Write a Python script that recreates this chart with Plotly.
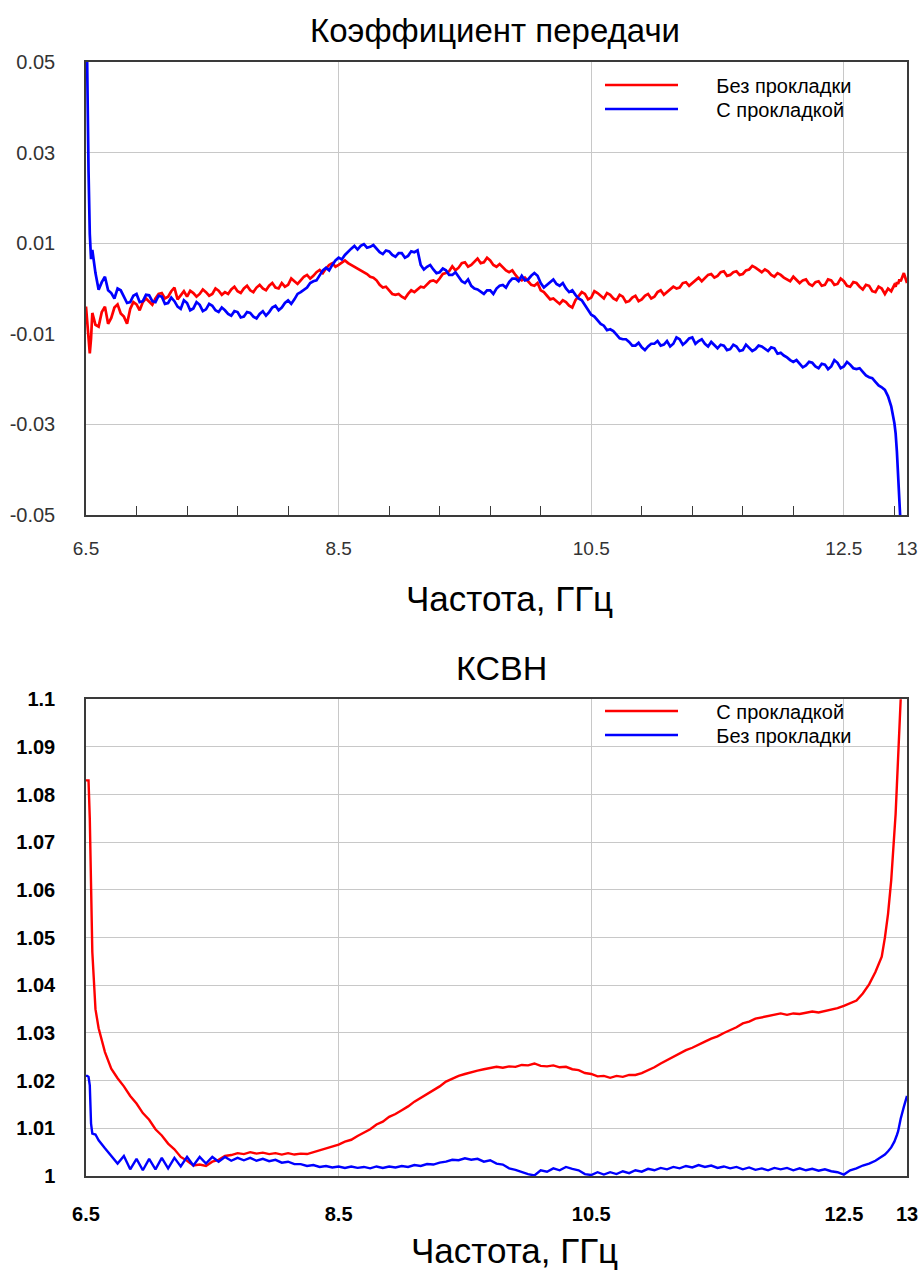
import plotly.graph_objects as go

# ---------------- data ----------------
freq_head = [6.50, 6.51, 6.52, 6.53, 6.54, 6.55, 6.575]
freq_mid = [round(6.60 + 0.05 * i, 3) for i in range(125)]  # 6.60 ... 12.80
freq_tail = [12.825, 12.85, 12.875, 12.90, 12.91, 12.92, 12.93, 12.94, 12.95, 12.975, 13.00]
freq = freq_head + freq_mid + freq_tail
# extra half-step samples (6.625 ... 12.775) used by the noisier transmission curves
freq_half = [round(6.625 + 0.05 * i, 3) for i in range(124)]

# Коэффициент передачи, Без прокладки (red)
tr_no_pad = [
    -0.004, -0.007, -0.010, -0.0143, -0.011, -0.0054, -0.008,
    -0.0084, -0.004, -0.0065, -0.0035, -0.0062, -0.0045, -0.0035, -0.003, -0.0028, -0.0022,
    -0.001, -0.0018, 0.0002, -0.0015, -0.0018, -0.001, -0.0012, -0.0008, -0.0012, -0.0005,
    -0.0008, -0.0002, -0.0006, 0.0, -0.0004, 0.0002, 0.0, 0.0006, 0.0002, 0.0012,
    0.0008, 0.0016, 0.0018, 0.003, 0.0028, 0.0041, 0.0044, 0.0056, 0.0052, 0.0062,
    0.0052, 0.0045, 0.0036, 0.0026, 0.0018, 0.0002, -0.0004, -0.0014, -0.0018, -0.0012,
    -0.0008, 0.0004, 0.0008, 0.0018, 0.0022, 0.0034, 0.0049, 0.0046, 0.0058, 0.0052,
    0.0066, 0.0058, 0.0062, 0.0048, 0.0046, 0.0036, 0.003, 0.0018, 0.0016, 0.0006,
    -0.0004, -0.0016, -0.0022, -0.0034, -0.003, -0.0042, -0.0018, -0.0012, -0.002, -0.001,
    -0.0022, -0.0014, -0.0026, -0.0018, -0.0028, -0.0016, -0.0024, -0.0012, -0.0018, -0.0004,
    -0.0008, 0.0004, 0.0002, 0.0014, 0.0012, 0.0024, 0.0022, 0.0032, 0.0028, 0.0038,
    0.003, 0.0038, 0.0032, 0.0042, 0.0046, 0.0036, 0.0038, 0.0026, 0.003, 0.002,
    0.0026, 0.0012, 0.002, 0.0006, 0.0016, 0.0008, 0.0018, 0.001, 0.0016, 0.0004,
    0.0012, -0.0002, 0.0006, -0.0008, 0.0,
    -0.0012, 0.0, -0.0006, 0.0008, 0.0004, 0.0014, 0.001, 0.002, 0.0016, 0.0034, 0.0012,
]
tr_no_pad_half = [
    -0.0052, -0.0078, -0.0042, -0.0055, -0.0078, -0.003, -0.0048, -0.0022, -0.0036, -0.0012,
    -0.0022, -0.0006, -0.0024, -0.0006, -0.0005, -0.0018, -0.0002, -0.0016, 0.0, -0.0014,
    -0.0012, 0.0004, -0.001, 0.0006, -0.0008, 0.0008, -0.0004, 0.0012, 0.0, 0.0004,
    0.0022, 0.001, 0.0026, 0.0022, 0.0036, 0.0034, 0.0052, 0.0048, 0.0058, 0.0056,
    0.0049, 0.004, 0.0032, 0.0024, 0.0008, 0.0004, -0.0012, -0.0012, -0.0022, -0.0004,
    -0.0002, 0.0002, 0.0016, 0.0014, 0.0032, 0.0038, 0.004, 0.0056, 0.0048, 0.006,
    0.0056, 0.0068, 0.0052, 0.0054, 0.004, 0.004, 0.0022, 0.0024, 0.0008, 0.0012,
    -0.0008, -0.0024, -0.0028, -0.0026, -0.0038, -0.0026, -0.0008, -0.0024, -0.0006, -0.0016,
    -0.001, -0.0022, -0.0014, -0.003, -0.002, -0.0028, -0.0016, -0.0022, -0.0008, -0.0014,
    -0.0002, 0.0, 0.0012, 0.0006, 0.002, 0.0016, 0.003, 0.0024, 0.0036, 0.0028,
    0.0036, 0.003, 0.004, 0.005, 0.004, 0.0042, 0.003, 0.0034, 0.0024, 0.0016,
    0.0018, 0.0018, 0.001, 0.0014, 0.0006, 0.002, 0.0008, 0.0022, 0.0006, 0.0014,
    0.0004, 0.0008, -0.0006, 0.0004,
]

# Коэффициент передачи, С прокладкой (blue)
tr_pad = [
    0.07, 0.045, 0.026, 0.012, 0.0065, 0.0085, 0.0034,
    -0.0003, 0.0026, -0.001, 0.0, -0.0018, -0.003, -0.0012, -0.0028, -0.0015, -0.003,
    -0.0018, -0.0032, -0.0028, -0.0045, -0.0032, -0.0044, -0.0036, -0.0046, -0.0038, -0.0052,
    -0.0048, -0.006, -0.0052, -0.0062, -0.0054, -0.0066, -0.005, -0.0052, -0.0038, -0.0042,
    -0.0026, -0.0024, -0.0008, 0.0002, 0.0016, 0.0028, 0.0046, 0.0052, 0.0068, 0.0074,
    0.0088, 0.0086, 0.0098, 0.0092, 0.0088, 0.0076, 0.0082, 0.007, 0.0078, 0.0072,
    0.008, 0.0052, 0.0048, 0.0042, 0.0036, 0.004, 0.003, 0.0026, 0.0012, 0.0006,
    -0.0002, -0.0012, -0.0004, 0.0, 0.0008, 0.0014, 0.0022, 0.0028, 0.002, 0.0034,
    0.0012, 0.0008, 0.002, 0.0006, 0.0, -0.0004, -0.0022, -0.0036, -0.0058, -0.007,
    -0.0082, -0.009, -0.0102, -0.0112, -0.0118, -0.0126, -0.013, -0.0128, -0.0122, -0.0126,
    -0.0116, -0.0122, -0.0112, -0.0118, -0.0108, -0.0116, -0.0122, -0.0118, -0.0132, -0.0126,
    -0.0134, -0.0128, -0.0136, -0.013, -0.0134, -0.0128, -0.0138, -0.0132, -0.0142, -0.0152,
    -0.0162, -0.0166, -0.017, -0.0164, -0.0176, -0.0168, -0.0172, -0.0164, -0.0172, -0.0168,
    -0.0178, -0.0184, -0.0196, -0.0206, -0.0218,
    -0.0224, -0.0238, -0.026, -0.0297, -0.032, -0.036, -0.042, -0.048, -0.056, -0.07, -0.08,
]
tr_pad_half = [
    0.0014, -0.0004, -0.0022, -0.0004, -0.0032, -0.0016, -0.003, -0.0014, -0.0028, -0.0016,
    -0.0034, -0.002, -0.004, -0.0026, -0.0048, -0.003, -0.005, -0.0034, -0.0048, -0.0042,
    -0.0056, -0.005, -0.0064, -0.0052, -0.0062, -0.0056, -0.006, -0.0042, -0.0048, -0.0032,
    -0.0034, -0.0012, -0.0002, 0.0012, 0.0018, 0.004, 0.004, 0.0062, 0.0064, 0.0082,
    0.0094, 0.0094, 0.009, 0.0096, 0.008, 0.0084, 0.0074, 0.0078, 0.0068, 0.0082,
    0.0084, 0.0042, 0.0052, 0.0034, 0.0044, 0.003, 0.0036, 0.0016, 0.002, 0.0,
    -0.0008, -0.0004, -0.0012, 0.0006, 0.0002, 0.0022, 0.0016, 0.0018, 0.0028, 0.0028,
    0.0002, 0.0016, 0.001, 0.0012, -0.0008, -0.0014, -0.0026, -0.0048, -0.0062, -0.0078,
    -0.0092, -0.0094, -0.011, -0.0112, -0.0126, -0.012, -0.0136, -0.0122, -0.0116, -0.0124,
    -0.0128, -0.0108, -0.0124, -0.011, -0.0122, -0.0112, -0.0128, -0.0124, -0.0124, -0.0136,
    -0.0124, -0.0138, -0.0124, -0.0138, -0.0126, -0.0134, -0.013, -0.0144, -0.0148, -0.0158,
    -0.0158, -0.0174, -0.0162, -0.0172, -0.0166, -0.0178, -0.0158, -0.0176, -0.0162, -0.0176,
    -0.0176, -0.0192, -0.0198, -0.0214,
]

# КСВН, С прокладкой (red)
vswr_pad = [
    1.083, 1.083, 1.083, 1.075, 1.056, 1.047, 1.035,
    1.031, 1.026, 1.0225, 1.0205, 1.0188, 1.0168, 1.0152, 1.0132, 1.0118, 1.0098,
    1.0085, 1.0068, 1.0056, 1.004, 1.0032, 1.0022, 1.0024, 1.0021, 1.003, 1.0034,
    1.0042, 1.0044, 1.0048, 1.0046, 1.005, 1.0047, 1.0049, 1.0046, 1.0048, 1.0045,
    1.0048, 1.0045, 1.0047, 1.0046, 1.005, 1.0053, 1.0057, 1.0062, 1.0066, 1.0072,
    1.0076, 1.0084, 1.0091, 1.0098, 1.0108, 1.0114, 1.0124, 1.013, 1.0138, 1.0146,
    1.0156, 1.0164, 1.0172, 1.018, 1.0188, 1.0198, 1.0204, 1.021, 1.0214, 1.0218,
    1.0221, 1.0224, 1.0226, 1.0229, 1.0227, 1.023, 1.0229, 1.0233, 1.0232, 1.0236,
    1.0231, 1.023, 1.0232, 1.0228, 1.0229, 1.0224, 1.0222, 1.0216, 1.0214, 1.0209,
    1.021, 1.0206, 1.021, 1.0208, 1.0212, 1.0212, 1.0216, 1.0222, 1.0228, 1.0236,
    1.0243, 1.025, 1.0257, 1.0264, 1.0269, 1.0276, 1.0282, 1.0288, 1.0293, 1.03,
    1.0306, 1.0312, 1.032, 1.0324, 1.033, 1.0333, 1.0336, 1.0339, 1.0341, 1.0338,
    1.0341, 1.034, 1.0343, 1.0345, 1.0343, 1.0346, 1.0348, 1.0352, 1.0357, 1.0362,
    1.0368, 1.0383, 1.0402, 1.0428, 1.046,
    1.05, 1.055, 1.062, 1.071, 1.076, 1.082, 1.088, 1.094, 1.101, 1.115, 1.13,
]

# КСВН, Без прокладки (blue)
vswr_no_pad = [
    1.021, 1.021, 1.0208, 1.019, 1.011, 1.0089, 1.0087,
    1.0075, 1.0058, 1.0042, 1.0026, 1.0042, 1.0014, 1.0036, 1.0012, 1.0036, 1.0014,
    1.0038, 1.0016, 1.0038, 1.002, 1.004, 1.0022, 1.004, 1.0026, 1.004, 1.003,
    1.004, 1.0032, 1.0038, 1.0033, 1.0038, 1.0032, 1.0036, 1.0031, 1.0034, 1.0028,
    1.003, 1.0025, 1.0025, 1.0021, 1.0023, 1.0019, 1.0021, 1.0018, 1.002, 1.0017,
    1.002, 1.0017, 1.0019, 1.0016, 1.002, 1.0017, 1.002, 1.0018, 1.0021, 1.0019,
    1.0023, 1.0021, 1.0025, 1.0024, 1.0028, 1.003, 1.0034, 1.0033, 1.0037, 1.0034,
    1.0036, 1.003, 1.0033, 1.0026, 1.0024, 1.0016, 1.0013, 1.0008, 1.0004, 1.0001,
    1.0012, 1.0009, 1.0016, 1.0012, 1.0019, 1.0015, 1.0012, 1.0004, 1.0002, 1.0008,
    1.0003, 1.0008, 1.0004, 1.001, 1.0006, 1.0012, 1.0009, 1.0015, 1.0012, 1.0017,
    1.0014, 1.0019, 1.0016, 1.0021, 1.0018, 1.0023, 1.0019, 1.0022, 1.0017, 1.002,
    1.0016, 1.0019, 1.0014, 1.0018, 1.0013, 1.0016, 1.0012, 1.0017, 1.0014, 1.0017,
    1.0012, 1.0016, 1.0012, 1.0015, 1.0011, 1.0014, 1.001, 1.0008, 1.0003, 1.0012,
    1.0016, 1.0022, 1.0026, 1.0032, 1.004,
    1.0045, 1.0052, 1.006, 1.0072, 1.0078, 1.0086, 1.0094, 1.0108, 1.012, 1.0145, 1.0168,
]

for s in (tr_no_pad, tr_pad, vswr_pad, vswr_no_pad):
    assert len(s) == len(freq), (len(s), len(freq))
for s in (tr_no_pad_half, tr_pad_half):
    assert len(s) == len(freq_half), (len(s), len(freq_half))

x_tickvals = [6.5, 8.5, 10.5, 12.5, 13]
x_ticktext = ["6.5", "8.5", "10.5", "12.5", "13"]
x_minor = [6.9, 7.3, 7.7, 8.1, 8.9, 9.3, 9.7, 10.1, 10.9, 11.3, 11.7, 12.1, 12.9]
y1_tickvals = [0.05, 0.03, 0.01, -0.01, -0.03, -0.05]
y1_ticktext = ["0.05", "0.03", "0.01", "-0.01", "-0.03", "-0.05"]
y2_tickvals = [1.0, 1.01, 1.02, 1.03, 1.04, 1.05, 1.06, 1.07, 1.08, 1.09, 1.1]
y2_ticktext = ["1", "1.01", "1.02", "1.03", "1.04", "1.05", "1.06", "1.07", "1.08", "1.09", "1.1"]


def merged(xa, ya, xb, yb):
    pts = sorted(zip(list(xa) + list(xb), list(ya) + list(yb)))
    return [p[0] for p in pts], [p[1] for p in pts]


x_tr_no, y_tr_no = merged(freq, tr_no_pad, freq_half, tr_no_pad_half)
x_tr_pad, y_tr_pad = merged(freq, tr_pad, freq_half, tr_pad_half)

RED = "#ff0000"
BLUE = "#0000ff"
FONT = "Liberation Sans, Arial, sans-serif"
PAD = "\u00a0" * 6

# ---------------- figure ----------------
fig = go.Figure()
fig.add_trace(go.Scatter(x=x_tr_no, y=y_tr_no, mode="lines", name=PAD + "Без прокладки",
                         line=dict(color=RED, width=2.7), xaxis="x", yaxis="y", legend="legend"))
fig.add_trace(go.Scatter(x=x_tr_pad, y=y_tr_pad, mode="lines", name=PAD + "С прокладкой",
                         line=dict(color=BLUE, width=2.7), xaxis="x", yaxis="y", legend="legend2"))
fig.add_trace(go.Scatter(x=freq, y=vswr_pad, mode="lines", name=PAD + "С прокладкой",
                         line=dict(color=RED, width=2.4), xaxis="x2", yaxis="y2", legend="legend3"))
fig.add_trace(go.Scatter(x=freq, y=vswr_no_pad, mode="lines", name=PAD + "Без прокладки",
                         line=dict(color=BLUE, width=2.4), xaxis="x2", yaxis="y2", legend="legend4"))

W, H = 920, 1273
ML, MR, MT, MB = 86, 13, 62, 97
PH = H - MT - MB


def py(pix):
    return (H - MB - pix) / PH


def px(pix):
    return (pix - ML) / (W - ML - MR)


GRID = "#c8c8c8"
AX = "#3a3a3a"

common_x = dict(range=[6.5, 13], tickmode="array", tickvals=x_tickvals, ticktext=x_ticktext,
                showgrid=True, gridcolor=GRID, gridwidth=1, showline=True, linecolor=AX,
                linewidth=1.5, mirror=True, ticks="", zeroline=False, automargin=False)


def leg(ycenter):
    return dict(x=px(600), y=py(ycenter), xanchor="left", yanchor="middle",
                bgcolor="rgba(0,0,0,0)", font=dict(size=20, color="#000"),
                itemwidth=73, tracegroupgap=0)


fig.update_layout(
    width=W, height=H,
    margin=dict(l=ML, r=MR, t=MT, b=MB, autoexpand=False),
    paper_bgcolor="white", plot_bgcolor="white",
    font=dict(family=FONT, color="#000"),
    showlegend=True,
    xaxis=dict(**common_x, domain=[0, 1], anchor="y",
               tickfont=dict(size=19, color="#333"), ticklabelstandoff=15,
               minor=dict(tickmode="array", tickvals=x_minor, ticks="inside", ticklen=9,
                          tickwidth=1.3, tickcolor=AX, showgrid=False)),
    yaxis=dict(domain=[py(515), 1], anchor="x", range=[-0.05, 0.05], tickmode="array",
               tickvals=y1_tickvals, ticktext=y1_ticktext, showgrid=True, gridcolor=GRID,
               showline=True, linecolor=AX, linewidth=1.5, mirror=True, ticks="", zeroline=False,
               automargin=False, tickfont=dict(size=20, color="#333"), ticklabelstandoff=25),
    xaxis2=dict(**common_x, domain=[0, 1], anchor="y2",
                tickfont=dict(size=20, color="#000", weight="bold"), ticklabelstandoff=19),
    yaxis2=dict(domain=[0, py(699.3)], anchor="x2", range=[1.0, 1.1], tickmode="array",
                tickvals=y2_tickvals, ticktext=y2_ticktext, showgrid=True, gridcolor=GRID,
                showline=True, linecolor=AX, linewidth=1.5, mirror=True, ticks="", zeroline=False,
                automargin=False, tickfont=dict(size=20, color="#000", weight="bold"),
                ticklabelstandoff=25),
    legend=leg(85),
    legend2=leg(109),
    legend3=leg(711),
    legend4=leg(735),
    annotations=[
        dict(text="Коэффициент передачи", x=px(495), y=py(30), xref="paper", yref="paper",
             showarrow=False, xanchor="center", yanchor="middle", font=dict(size=33, color="#000")),
        dict(text="Частота, ГГц", x=px(510), y=py(598), xref="paper", yref="paper",
             showarrow=False, xanchor="center", yanchor="middle", font=dict(size=35, color="#000")),
        dict(text="КСВН", x=px(501), y=py(668), xref="paper", yref="paper",
             showarrow=False, xanchor="center", yanchor="middle", font=dict(size=34, color="#000")),
        dict(text="Частота, ГГц", x=px(514), y=py(1250), xref="paper", yref="paper",
             showarrow=False, xanchor="center", yanchor="middle", font=dict(size=35, color="#000")),
    ],
)

fig.write_html("out.html", config={"displayModeBar": False},
               post_script="document.body.style.margin='0';document.body.style.overflow='hidden';")
